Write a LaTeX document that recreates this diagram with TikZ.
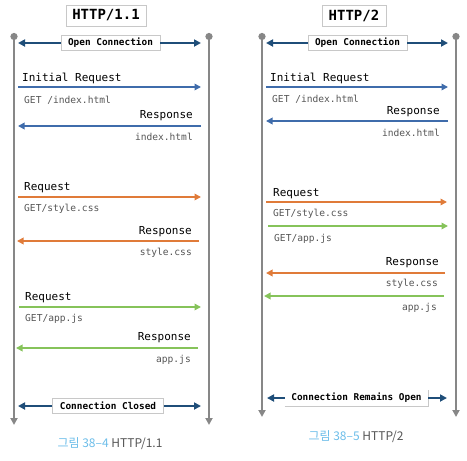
\documentclass[tikz,border=0pt]{standalone}
\usepackage{fontspec}
\setmonofont{DejaVu Sans Mono}
\newfontfamily\cjk{Noto Sans CJK KR}
\usetikzlibrary{arrows.meta}
\definecolor{lifegray}{HTML}{878787}
\definecolor{navy}{HTML}{1F4E79}
\definecolor{msgblue}{HTML}{3F6CAB}
\definecolor{msgorange}{HTML}{E07B39}
\definecolor{msggreen}{HTML}{86C35A}
\definecolor{txtgray}{HTML}{555555}
\definecolor{capblue}{HTML}{6CBDE9}
\definecolor{capgray}{HTML}{555555}
\definecolor{boxgray}{HTML}{C8C8C8}
\tikzset{
  lifeline/.style={draw=lifegray, line width=2.6pt, {Circle[length=7pt,width=7pt]}-{Triangle[length=7pt,width=7pt]}},
  titlebox/.style={draw=boxgray, line width=0.6pt, fill=white, font=\ttfamily\bfseries\fontsize{14}{16}\selectfont, minimum width=80pt, minimum height=21pt, inner sep=0pt},
  connbox/.style={draw=boxgray, line width=0.6pt, fill=white, font=\ttfamily\bfseries\fontsize{9.4}{11}\selectfont, minimum height=15pt, inner sep=0pt},
  connarrow/.style={draw=navy, line width=2.6pt, -{Triangle[length=7pt,width=7pt]}},
  msg/.style={line width=2.3pt, -{Triangle[length=6.5pt,width=6.5pt]}},
  lbl/.style={font=\ttfamily\fontsize{11}{13}\selectfont, text=black, inner sep=0pt},
  sub/.style={font=\ttfamily\fontsize{9.6}{11}\selectfont, text=txtgray, inner sep=0pt},
  figcap/.style={font=\cjk\fontsize{12}{14}\selectfont, inner sep=0pt},
}
\begin{document}
\begin{tikzpicture}[x=1pt,y=-1pt]
\useasboundingbox (0,0) rectangle (467,461);
% ===== Left: HTTP/1.1 =====
\coordinate (aLtop) at (14,33);
\coordinate (aLbot) at (14,425);
\coordinate (aRtop) at (209,33);
\coordinate (aRbot) at (209,425);
\draw[lifeline] (aLtop) -- (aLbot);
\draw[lifeline] (aRtop) -- (aRbot);
\node[titlebox] (atitle) at (106,15.5) {HTTP/1.1};
\node[connbox, minimum width=99pt] (aopen) at (110.5,43) {Open Connection};
\coordinate (aopenL) at (18,43);
\coordinate (aopenR) at (201,43);
\draw[connarrow] (aopen.west) -- (aopenL);
\draw[connarrow] (aopen.east) -- (aopenR);
% initial request
\node[lbl, anchor=west] (ainit) at (22,78) {Initial Request};
\coordinate (a1s) at (18,87); \coordinate (a1e) at (201,87);
\draw[msg, msgblue] (a1s) -- (a1e);
\node[sub, anchor=west] (aget1) at (24,100) {GET /index.html};
\node[lbl, anchor=east] (aresp1) at (193,116) {Response};
\coordinate (a2s) at (201,126); \coordinate (a2e) at (18,126);
\draw[msg, msgblue] (a2s) -- (a2e);
\node[sub, anchor=east] (aidx) at (193,137) {index.html};
% style.css
\node[lbl, anchor=west] (areq2) at (24,188) {Request};
\coordinate (a3s) at (18,197); \coordinate (a3e) at (201,197);
\draw[msg, msgorange] (a3s) -- (a3e);
\node[sub, anchor=west] (aget2) at (24,209) {GET/style.css};
\node[lbl, anchor=east] (aresp2) at (192,232) {Response};
\coordinate (a4s) at (199,241); \coordinate (a4e) at (17,241);
\draw[msg, msgorange] (a4s) -- (a4e);
\node[sub, anchor=east] (acss) at (192,253) {style.css};
% app.js
\node[lbl, anchor=west] (areq3) at (25,298) {Request};
\coordinate (a5s) at (19,307); \coordinate (a5e) at (201,307);
\draw[msg, msggreen] (a5s) -- (a5e);
\node[sub, anchor=west] (aget3) at (25,319) {GET/app.js};
\node[lbl, anchor=east] (aresp3) at (191,338) {Response};
\coordinate (a6s) at (198,348); \coordinate (a6e) at (16,348);
\draw[msg, msggreen] (a6s) -- (a6e);
\node[sub, anchor=east] (ajs) at (191,360) {app.js};
% closed
\node[connbox, minimum width=111pt] (aclose) at (108,406) {Connection Closed};
\coordinate (acloseL) at (18,406);
\coordinate (acloseR) at (201,406);
\draw[connarrow] (aclose.west) -- (acloseL);
\draw[connarrow] (aclose.east) -- (acloseR);
\node[figcap] (acap) at (110,444) {\textcolor{capblue}{그림 38–4} \textcolor{capgray}{HTTP/1.1}};
% ===== Right: HTTP/2 =====
\coordinate (bLtop) at (262,33);
\coordinate (bLbot) at (262,417);
\coordinate (bRtop) at (456,33);
\coordinate (bRbot) at (456,417);
\draw[lifeline] (bLtop) -- (bLbot);
\draw[lifeline] (bRtop) -- (bRbot);
\node[titlebox, minimum width=64pt] (btitle) at (354,15.5) {HTTP/2};
\node[connbox, minimum width=99pt] (bopen) at (357.5,43) {Open Connection};
\coordinate (bopenL) at (266,43);
\coordinate (bopenR) at (448,43);
\draw[connarrow] (bopen.west) -- (bopenL);
\draw[connarrow] (bopen.east) -- (bopenR);
\node[lbl, anchor=west] (binit) at (270,78) {Initial Request};
\coordinate (b1s) at (266,87); \coordinate (b1e) at (448,87);
\draw[msg, msgblue] (b1s) -- (b1e);
\node[sub, anchor=west] (bget1) at (272,99) {GET /index.html};
\node[lbl, anchor=east] (bresp1) at (440,112) {Response};
\coordinate (b2s) at (448,121); \coordinate (b2e) at (266,121);
\draw[msg, msgblue] (b2s) -- (b2e);
\node[sub, anchor=east] (bidx) at (440,133) {index.html};
\node[lbl, anchor=west] (breq) at (273,194) {Request};
\coordinate (b3s) at (266,202); \coordinate (b3e) at (447,202);
\draw[msg, msgorange] (b3s) -- (b3e);
\node[sub, anchor=west] (bget2) at (273,214) {GET/style.css};
\coordinate (b4s) at (268,226); \coordinate (b4e) at (448,226);
\draw[msg, msggreen] (b4s) -- (b4e);
\node[sub, anchor=west] (bget3) at (274,239) {GET/app.js};
\node[lbl, anchor=east] (bresp2) at (439,263) {Response};
\coordinate (b5s) at (445,273); \coordinate (b5e) at (266,273);
\draw[msg, msgorange] (b5s) -- (b5e);
\node[sub, anchor=east] (bcss) at (438,284) {style.css};
\coordinate (b6s) at (444,296); \coordinate (b6e) at (264,296);
\draw[msg, msggreen] (b6s) -- (b6e);
\node[sub, anchor=east] (bjs) at (437,308) {app.js};
\node[connbox, draw=none, fill=none, minimum width=143pt] (bremain) at (356.5,398) {Connection Remains Open};
\draw[boxgray, line width=0.6pt] (bremain.south west) -- (bremain.south east) -- (bremain.north east);
\coordinate (bremL) at (267,398);
\coordinate (bremR) at (447,398);
\draw[connarrow] (bremain.west) -- (bremL);
\draw[connarrow] (bremain.east) -- (bremR);
\node[figcap] (bcap) at (356,437) {\textcolor{capblue}{그림 38–5} \textcolor{capgray}{HTTP/2}};
\end{tikzpicture}
\end{document}
